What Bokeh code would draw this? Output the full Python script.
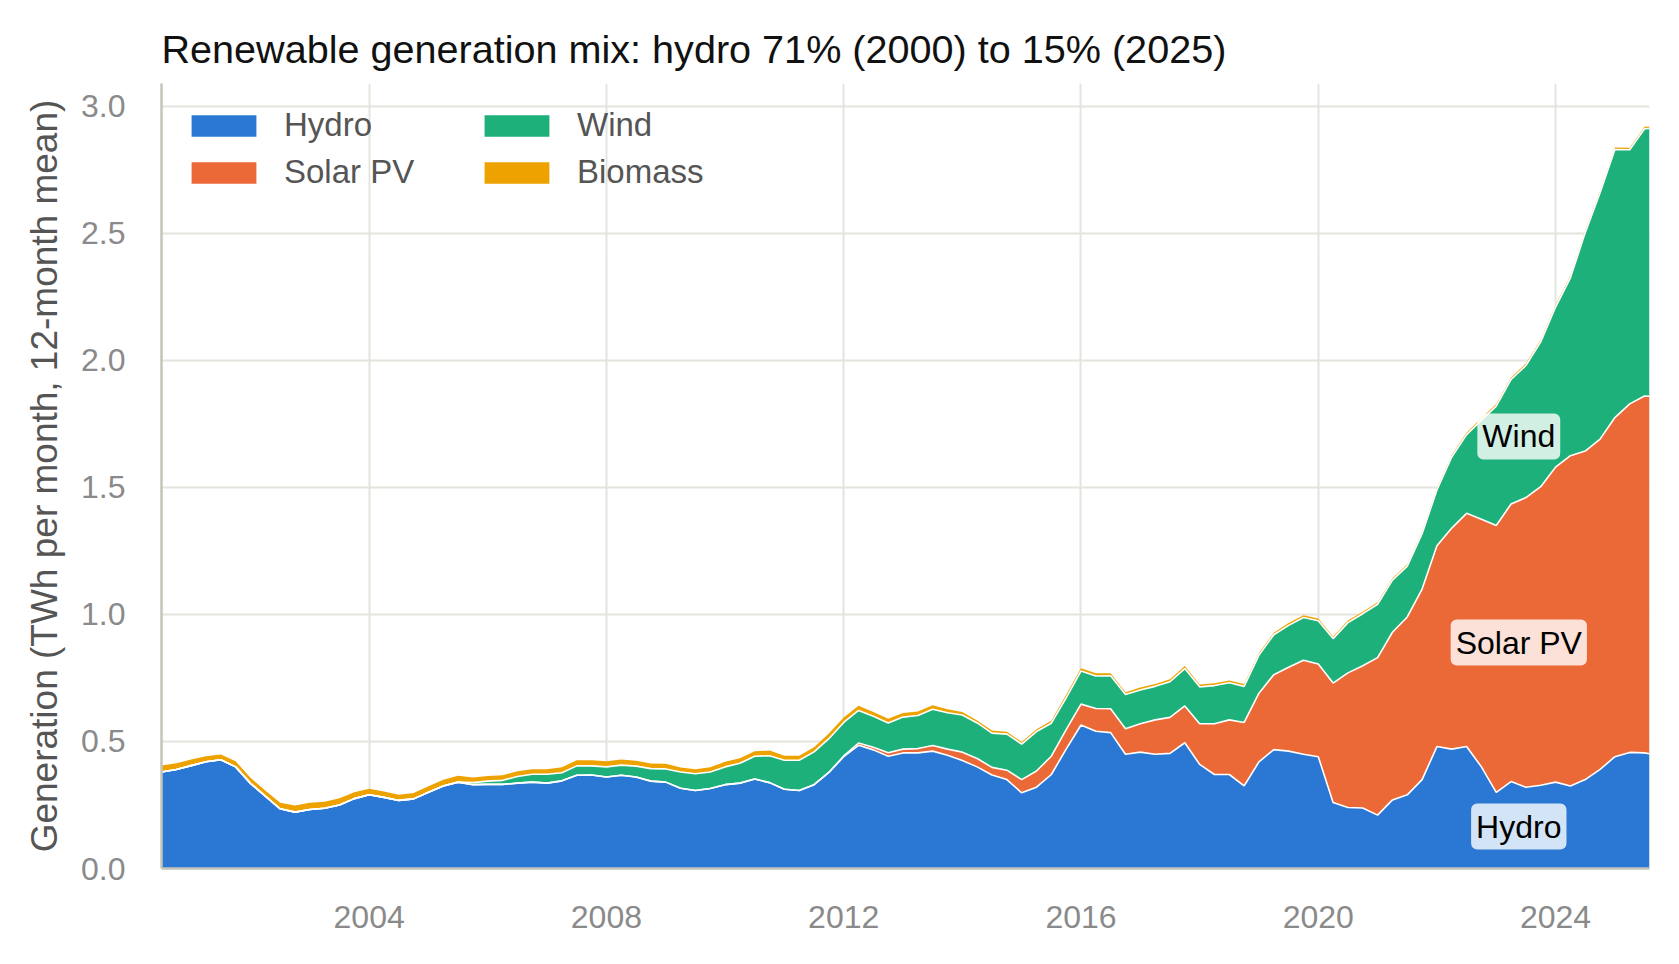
import numpy as np
from bokeh.plotting import figure
from bokeh.models import ColumnDataSource, Range1d, FixedTicker, NumeralTickFormatter, Label
from bokeh.embed import file_html
from bokeh.resources import INLINE

# quarterly samples of the 12-month mean, Jul 2000 .. Jul 2025, plus Aug 2025
periods = [(2000 + (6 + 3 * i) // 12, (6 + 3 * i) % 12 + 1) for i in range(101)] + [(2025, 8)]
x = [yr + (mo - 1) / 12 for yr, mo in periods]

series = ["Hydro", "Solar PV", "Wind", "Biomass"]
colors = ["#2b78d4", "#eb6837", "#1eb07a", "#eea200"]

# TWh per month, one row per year (2000 starts in July, 2025 ends in August)
hydro = [
    0.38, 0.39,
    0.405, 0.42, 0.428, 0.40,
    0.335, 0.285, 0.235, 0.222,
    0.232, 0.237, 0.25, 0.275,
    0.29, 0.28, 0.268, 0.274,
    0.30, 0.325, 0.34, 0.33,
    0.331, 0.331, 0.336, 0.34,
    0.336, 0.345, 0.367, 0.368,
    0.36, 0.367, 0.36, 0.344,
    0.34, 0.316, 0.307, 0.315,
    0.33, 0.336, 0.352, 0.338,
    0.312, 0.307, 0.33, 0.378,
    0.44, 0.485, 0.467, 0.442,
    0.455, 0.455, 0.462, 0.446,
    0.425, 0.40, 0.368, 0.35,
    0.298, 0.32, 0.37, 0.47,
    0.565, 0.54, 0.535, 0.45,
    0.458, 0.45, 0.453, 0.495,
    0.41, 0.37, 0.37, 0.325,
    0.42, 0.468, 0.462, 0.45,
    0.44, 0.26, 0.24, 0.238,
    0.21, 0.27, 0.29, 0.35,
    0.48, 0.47, 0.48, 0.40,
    0.30, 0.342, 0.32, 0.328,
    0.34, 0.325, 0.35, 0.39,
    0.44, 0.457, 0.455, 0.452,
]
solar = [
    0.0, 0.0,
    0.0, 0.0, 0.0, 0.0,
    0.0, 0.0, 0.0, 0.0,
    0.0, 0.0, 0.0, 0.0,
    0.0, 0.0, 0.0, 0.0,
    0.0, 0.0, 0.0, 0.0,
    0.0, 0.0, 0.0, 0.0,
    0.0, 0.0, 0.0, 0.0,
    0.0, 0.0, 0.0, 0.0,
    0.0, 0.0, 0.0, 0.0,
    0.0, 0.0, 0.0, 0.0,
    0.0, 0.0, 0.0, 0.0,
    0.003, 0.009, 0.01, 0.014,
    0.015, 0.017, 0.022, 0.024,
    0.033, 0.033, 0.03, 0.037,
    0.052, 0.064, 0.072, 0.077,
    0.082, 0.09, 0.094, 0.10,
    0.112, 0.135, 0.142, 0.145,
    0.16, 0.20, 0.215, 0.25,
    0.27, 0.295, 0.33, 0.37,
    0.365, 0.47, 0.53, 0.56,
    0.62, 0.66, 0.70, 0.75,
    0.79, 0.87, 0.918, 0.975,
    1.05, 1.093, 1.14, 1.175,
    1.24, 1.30, 1.293, 1.30,
    1.335, 1.372, 1.405, 1.407,
]
wind = [
    0.0, 0.0,
    0.0, 0.0, 0.0, 0.0,
    0.0, 0.0, 0.0, 0.0,
    0.0, 0.0, 0.0, 0.0,
    0.0, 0.0, 0.0, 0.0,
    0.0, 0.0, 0.0, 0.008,
    0.013, 0.016, 0.026, 0.031,
    0.035, 0.032, 0.037, 0.036,
    0.04, 0.04, 0.043, 0.049,
    0.052, 0.064, 0.066, 0.065,
    0.07, 0.078, 0.09, 0.106,
    0.114, 0.119, 0.129, 0.133,
    0.132, 0.128, 0.122, 0.117,
    0.126, 0.13, 0.143, 0.143,
    0.146, 0.14, 0.135, 0.142,
    0.14, 0.155, 0.13, 0.125,
    0.13, 0.128, 0.13, 0.135,
    0.133, 0.132, 0.14, 0.147,
    0.145, 0.15, 0.146, 0.142,
    0.15, 0.157, 0.165, 0.168,
    0.17, 0.175, 0.198, 0.205,
    0.21, 0.205, 0.2, 0.218,
    0.22, 0.28, 0.31, 0.39,
    0.47, 0.49, 0.52, 0.57,
    0.63, 0.70, 0.86, 0.97,
    1.055, 1.0, 1.052, 1.054,
]
biomass = [
    0.025, 0.024,
    0.024, 0.022, 0.021, 0.022,
    0.022, 0.022, 0.024, 0.026,
    0.027, 0.026, 0.027, 0.025,
    0.024, 0.023, 0.022, 0.023,
    0.024, 0.024, 0.025, 0.02,
    0.02, 0.02, 0.021, 0.02,
    0.02, 0.022, 0.022, 0.022,
    0.022, 0.022, 0.021, 0.02,
    0.02, 0.018, 0.018, 0.019,
    0.02, 0.02, 0.02, 0.02,
    0.018, 0.018, 0.018, 0.02,
    0.019, 0.019, 0.017, 0.016,
    0.016, 0.016, 0.016, 0.014,
    0.012, 0.01, 0.01, 0.009,
    0.008, 0.009, 0.01, 0.012,
    0.011, 0.011, 0.01, 0.009,
    0.009, 0.009, 0.01, 0.01,
    0.009, 0.009, 0.009, 0.009,
    0.008, 0.008, 0.009, 0.009,
    0.009, 0.008, 0.008, 0.008,
    0.008, 0.008, 0.008, 0.008,
    0.008, 0.008, 0.008, 0.008,
    0.008, 0.008, 0.008, 0.008,
    0.008, 0.008, 0.008, 0.008,
    0.008, 0.008, 0.008, 0.008,
]

source = ColumnDataSource(data={"x": x, "Hydro": hydro, "Solar PV": solar,
                                "Wind": wind, "Biomass": biomass})

FONT = "Liberation Sans"

p = figure(width=1663, height=948, output_backend="svg", toolbar_location=None,
           x_range=Range1d(x[0], x[-1]), y_range=Range1d(0, 3.09),
           title="Renewable generation mix: hydro 71% (2000) to 15% (2025)",
           min_border_left=161, min_border_right=14, min_border_top=83, min_border_bottom=80)
p.outline_line_color = None

p.varea_stack(series, x="x", source=source, color=colors, legend_label=series)
p.vline_stack(series[:3], x="x", source=source, color="white", line_width=1.6)

p.title.text_font = FONT
p.title.text_font_size = "39.6px"
p.title.text_font_style = "normal"
p.title.text_color = "#111111"
p.title.standoff = 25

p.xaxis.ticker = FixedTicker(ticks=[2004, 2008, 2012, 2016, 2020, 2024])
p.xaxis.formatter = NumeralTickFormatter(format="0")
p.yaxis.ticker = FixedTicker(ticks=[0, 0.5, 1.0, 1.5, 2.0, 2.5, 3.0])
p.yaxis.formatter = NumeralTickFormatter(format="0.0")

p.axis.major_tick_line_color = None
p.axis.minor_tick_line_color = None
p.axis.axis_line_color = "#c4c4bb"
p.axis.axis_line_width = 2.5
p.axis.major_label_text_font = FONT
p.axis.major_label_text_font_size = "32px"
p.axis.major_label_text_color = "#8a8a8a"
p.yaxis.major_label_standoff = 30
p.xaxis.major_label_standoff = 31

p.yaxis.axis_label = "Generation (TWh per month, 12-month mean)"
p.yaxis.axis_label_text_font = FONT
p.yaxis.axis_label_text_font_size = "37px"
p.yaxis.axis_label_text_font_style = "normal"
p.yaxis.axis_label_text_color = "#555555"
p.yaxis.axis_label_standoff = 13

p.grid.grid_line_color = "#e4e4de"
p.grid.grid_line_width = 2

leg = p.legend[0]
leg.location = "top_left"
leg.ncols = 2
leg.border_line_color = None
leg.background_fill_alpha = 0
leg.margin = 22
leg.spacing = 7
leg.glyph_width = 81
leg.glyph_height = 27
leg.label_height = 40
leg.label_width = 185
leg.label_standoff = 20
leg.label_text_font = FONT
leg.label_text_font_size = "33px"
leg.label_text_color = "#555555"

# layer labels placed at the middle of each band
lx = 2023.38
bottom = 0.0
for name in series[:3]:
    v = float(np.interp(lx, x, source.data[name]))
    p.add_layout(Label(x=lx, y=bottom + v / 2, text=name, text_align="center",
                       text_baseline="middle", text_font=FONT, text_font_size="32px",
                       text_color="black", background_fill_color="white",
                       background_fill_alpha=0.8, border_radius=6, padding=5))
    bottom += v

open("out.html", "w").write(file_html(p, INLINE))
